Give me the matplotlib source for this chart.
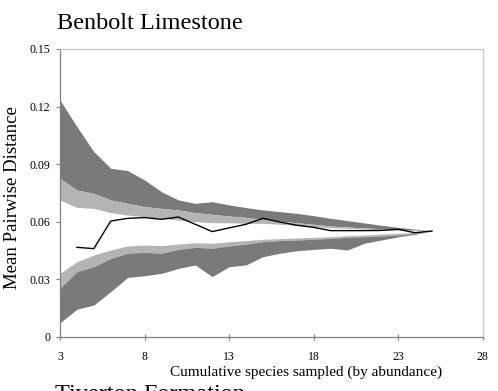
import matplotlib
matplotlib.use("Agg")
import matplotlib.pyplot as plt
import numpy as np

# species sampled (cumulative, by abundance)
species = np.arange(3, 26)

# observed mean pairwise distance (starts at 4 species)
obs_x = np.arange(4, 26)
obs_mpd = [0.0466, 0.0459, 0.0603, 0.0617, 0.0621, 0.0612, 0.0624, 0.0586,
           0.0548, 0.0567, 0.0586, 0.0617, 0.0598, 0.0581, 0.0570, 0.0553,
           0.0553, 0.0553, 0.0554, 0.0560, 0.0542, 0.0551]

# null envelope, upper side
upper_outer = [0.1234, 0.1095, 0.0965, 0.0878, 0.0866, 0.0817, 0.0756, 0.0713,
               0.0695, 0.0704, 0.0687, 0.0673, 0.0661, 0.0652, 0.0643, 0.0631,
               0.0617, 0.0605, 0.0593, 0.0581, 0.0570, 0.0561, 0.0551]
upper_mid = [0.0826, 0.0765, 0.0747, 0.0713, 0.0695, 0.0678, 0.0669, 0.0661,
             0.0647, 0.0638, 0.0629, 0.0622, 0.0612, 0.0603, 0.0594, 0.0586,
             0.0577, 0.0572, 0.0567, 0.0563, 0.0560, 0.0556, 0.0551]
upper_inner = [0.0713, 0.0674, 0.0669, 0.0647, 0.0634, 0.0626, 0.0617, 0.0608,
               0.0600, 0.0594, 0.0594, 0.0591, 0.0591, 0.0586, 0.0581, 0.0574,
               0.0568, 0.0565, 0.0561, 0.0558, 0.0556, 0.0553, 0.0551]

# null envelope, lower side
lower_inner = [0.0330, 0.0391, 0.0426, 0.0452, 0.0473, 0.0478, 0.0475, 0.0483,
               0.0490, 0.0487, 0.0495, 0.0501, 0.0508, 0.0511, 0.0515, 0.0518,
               0.0521, 0.0527, 0.0530, 0.0535, 0.0539, 0.0544, 0.0551]
lower_mid = [0.0252, 0.0339, 0.0365, 0.0408, 0.0435, 0.0440, 0.0435, 0.0455,
             0.0466, 0.0461, 0.0473, 0.0483, 0.0495, 0.0501, 0.0504, 0.0508,
             0.0513, 0.0518, 0.0521, 0.0525, 0.0530, 0.0539, 0.0551]
lower_outer = [0.0073, 0.0143, 0.0165, 0.0235, 0.0309, 0.0318, 0.0330, 0.0356,
               0.0374, 0.0313, 0.0365, 0.0374, 0.0417, 0.0435, 0.0448, 0.0455,
               0.0461, 0.0452, 0.0487, 0.0504, 0.0521, 0.0534, 0.0551]

x_ticks = [3, 8, 13, 18, 23, 28]
y_ticks = [0, 0.03, 0.06, 0.09, 0.12, 0.15]
y_ticklabels = ["0", "0.03", "0.06", "0.09", "0.12", "0.15"]

dark = "#7a7a7a"
light = "#b4b4b4"
serif = ["Liberation Serif", "DejaVu Serif"]

fig = plt.figure(figsize=(4.98, 3.91), dpi=100)
ax = fig.add_axes([0.1205, 0.1389, 0.8488, 0.7358])

ax.fill_between(species, upper_mid, upper_outer, color=dark, lw=0)
ax.fill_between(species, upper_inner, upper_mid, color=light, lw=0)
ax.fill_between(species, lower_mid, lower_inner, color=light, lw=0)
ax.fill_between(species, lower_outer, lower_mid, color=dark, lw=0)
ax.plot(obs_x, obs_mpd, color="black", lw=1.0)

ax.set_xlim(3, 28)
ax.set_ylim(0, 0.15)
ax.set_xticks(x_ticks)
ax.set_xticklabels([str(t) for t in x_ticks], family=serif, fontsize=8.5)
ax.set_yticks(y_ticks)
ax.set_yticklabels(y_ticklabels, family=serif, fontsize=8.5)
ax.tick_params(axis="x", direction="inout", length=5, width=0.8,
               color="#808080", pad=8)
ax.tick_params(axis="y", direction="out", length=3, width=0.8,
               color="#808080", pad=4)

for side in ("left", "bottom"):
    ax.spines[side].set_color("#808080")
    ax.spines[side].set_linewidth(0.9)
for side in ("top", "right"):
    ax.spines[side].set_color("#c8c8c8")
    ax.spines[side].set_linewidth(0.9)

fig.text(57 / 498, 1 - 29 / 391, "Benbolt Limestone", family=serif,
         fontsize=17.5, va="baseline", ha="left")
fig.text(306 / 498, 1 - 372 / 391,
         "Cumulative species sampled (by abundance)", family=serif,
         fontsize=11, va="center", ha="center")
fig.text(13 / 498, 1 - 198 / 391, "Mean Pairwise Distance", family=serif,
         fontsize=13.5, rotation=90, va="center", ha="center")

# heading of the next panel, cut off by the bottom edge
fig.text(55 / 498, 1 - 400 / 391, "Tiverton Formation", family=serif,
         fontsize=17.5, va="baseline", ha="left")

fig.savefig("out.png", dpi=100)
